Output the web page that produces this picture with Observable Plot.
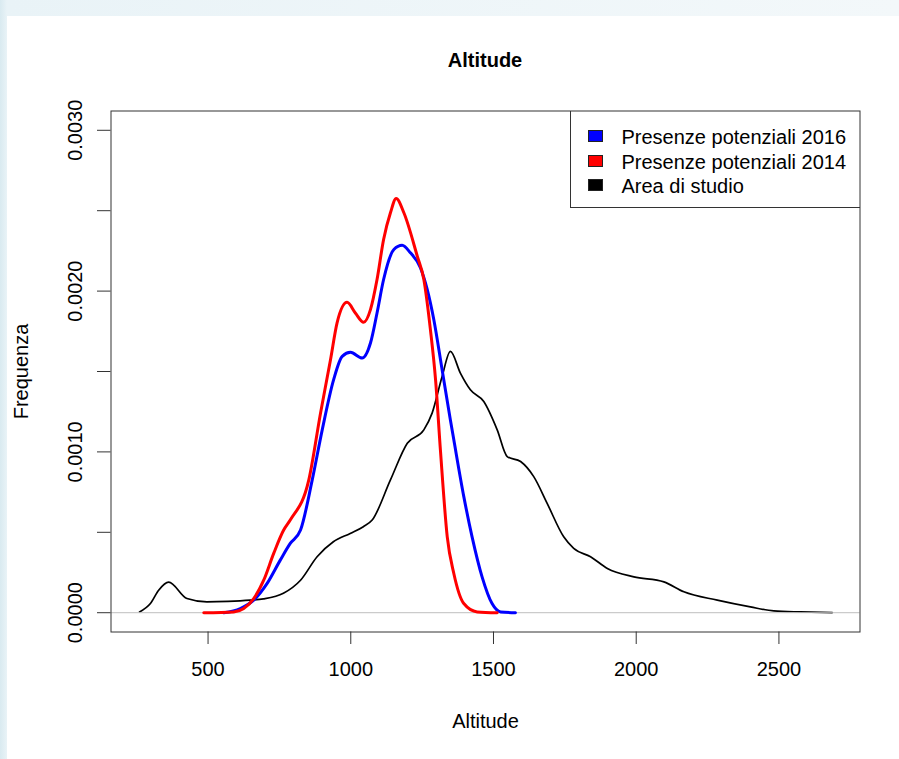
<!DOCTYPE html>
<html>
<head>
<meta charset="utf-8">
<script src="https://cdn.jsdelivr.net/npm/d3@7"></script>
<script src="https://cdn.jsdelivr.net/npm/@observablehq/plot@0.6"></script>
<style>
  html, body { margin: 0; padding: 0; }
  body {
    width: 899px; height: 759px; position: relative; overflow: hidden;
    background: linear-gradient(90deg, #d9eaf0 0px, #e9f3f7 7px, #f3f8fa 100%);
    font-family: "Liberation Sans", Arial, sans-serif; color: #000;
  }
  #panel { position: absolute; left: 7px; top: 16px; right: 0; bottom: 0; background: #fff; }
  #chart { position: absolute; left: 0; top: 0; }
  #title {
    position: absolute; left: 110.5px; width: 749px; top: 50px;
    text-align: center; font-weight: bold; font-size: 20px; line-height: 20px;
  }
  #legend {
    position: absolute; left: 569.5px; top: 110.5px; width: 290px; height: 97.5px;
    box-sizing: border-box; border: 1px solid #333; border-top: none; border-right: none;
  }
  .lg-row { position: absolute; left: 0; height: 24px; width: 100%; }
  .lg-box { position: absolute; left: 17px; top: 0; width: 15px; height: 12px; box-sizing: border-box; border: 1px solid #222; }
  .lg-text { position: absolute; left: 51px; font-size: 20px; line-height: 20px; white-space: nowrap; }
</style>
</head>
<body>
<div id="panel"></div>
<div id="title"></div>
<div id="legend"></div>
<script>
// ---- data ----
const chartTitle = "Altitude";
const xLabel = "Altitude";
const yLabel = "Frequenza";
const xTicks = [500, 1000, 1500, 2000, 2500];
const xTickLabels = ["500", "1000", "1500", "2000", "2500"];
const yTicks = [0, 0.0005, 0.001, 0.0015, 0.002, 0.0025, 0.003];
const yTickLabels = ["0.0000", "", "0.0010", "", "0.0020", "", "0.0030"];
const seriesNames = ["Presenze potenziali 2016", "Presenze potenziali 2014", "Area di studio"];
const seriesColors = ["#0000ff", "#ff0000", "#000000"];

// Area di studio (black)
const areaX = [260, 298, 327, 362, 426, 496, 570, 648, 694, 764, 824, 882, 939, 998, 1044, 1075, 1139, 1198, 1256, 1285, 1320, 1349, 1384, 1419, 1466, 1513, 1548, 1595, 1641, 1688, 1746, 1781, 1840, 1899, 1992, 2097, 2167, 2284, 2400, 2482, 2576, 2687];
const areaY = [0.000005, 0.000057, 0.00014, 0.00019, 0.000088, 0.000067, 0.00007, 0.000078, 0.000086, 0.000121, 0.000202, 0.000348, 0.000441, 0.000493, 0.000535, 0.000576, 0.000826, 0.001054, 0.001137, 0.001241, 0.001469, 0.001625, 0.00149, 0.001386, 0.001313, 0.001137, 0.000971, 0.00094, 0.000846, 0.00068, 0.000472, 0.0004, 0.000348, 0.000275, 0.000223, 0.000192, 0.00013, 0.000078, 0.000036, 0.000011, 0.000005, 0.000001];

// Presenze potenziali 2016 (blue)
const p2016X = [555, 613, 660, 707, 753, 788, 824, 865, 900, 940, 970, 999, 1040, 1069, 1092, 1115, 1151, 1180, 1209, 1244, 1268, 1291, 1320, 1349, 1361, 1396, 1425, 1460, 1495, 1525, 1577];
const p2016Y = [0, 0.000026, 0.000078, 0.000182, 0.000327, 0.000431, 0.000514, 0.000826, 0.001137, 0.001449, 0.001594, 0.001619, 0.001584, 0.001677, 0.001864, 0.002072, 0.002259, 0.002285, 0.002238, 0.002145, 0.002009, 0.001822, 0.001511, 0.001199, 0.001075, 0.000722, 0.000472, 0.000223, 0.000057, 0.000005, 0];

// Presenze potenziali 2014 (red)
const p2014X = [485, 590, 625, 660, 695, 730, 765, 788, 853, 894, 929, 952, 987, 1016, 1045, 1069, 1092, 1115, 1139, 1159, 1186, 1233, 1256, 1279, 1297, 1314, 1338, 1361, 1396, 1443, 1513];
const p2014Y = [0, 0.000005, 0.000026, 0.000088, 0.000202, 0.000369, 0.000514, 0.000576, 0.000826, 0.001241, 0.001573, 0.001802, 0.00193, 0.001864, 0.001806, 0.001885, 0.002072, 0.002321, 0.002487, 0.002576, 0.002487, 0.002217, 0.002072, 0.00176, 0.001449, 0.001012, 0.000472, 0.000244, 0.000057, 0.000005, 0];

const rows = (xs, ys) => xs.map((x, i) => ({x, y: ys[i]}));
const area = rows(areaX, areaY);
const s2016 = rows(p2016X, p2016Y);
const s2014 = rows(p2014X, p2014Y);

const font = "'Liberation Sans', Arial, sans-serif";

const svg = Plot.plot({
  width: 899,
  height: 759,
  marginLeft: 110.5,
  marginRight: 39.5,
  marginTop: 110.5,
  marginBottom: 127.5,
  x: {domain: [160, 2784], label: null},
  y: {domain: [-0.00012, 0.00312], label: null},
  style: {fontFamily: font, fontSize: "20px", color: "#000", background: "transparent", overflow: "visible"},
  marks: [
    Plot.line(area, {x: "x", y: "y", stroke: seriesColors[2], strokeWidth: 1.7, curve: "monotone-x"}),
    Plot.ruleY([0], {stroke: "#bebebe", strokeWidth: 1}),
    Plot.line(s2016, {x: "x", y: "y", stroke: seriesColors[0], strokeWidth: 3, curve: "monotone-x"}),
    Plot.line(s2014, {x: "x", y: "y", stroke: seriesColors[1], strokeWidth: 3, curve: "monotone-x"}),
    Plot.frame({stroke: "#333", strokeWidth: 1}),
    Plot.axisX(xTicks, {
      tickSize: 12.5, tickPadding: 17.5, fontSize: 20, label: null, stroke: "#333", fill: "#000",
      tickFormat: d => xTickLabels[xTicks.indexOf(d)]
    }),
    Plot.axisY(yTicks, {
      tickSize: 13.5, tickPadding: 21.5, tickRotate: -90, textAnchor: "middle", lineAnchor: "middle",
      fontSize: 20, label: null, stroke: "#333", fill: "#000",
      tickFormat: d => yTickLabels[yTicks.indexOf(d)]
    }),
    Plot.text([xLabel], {frameAnchor: "bottom", dy: 89.5, textAnchor: "middle", lineAnchor: "middle", fontSize: 20, fill: "#000"}),
    Plot.text([yLabel], {frameAnchor: "left", dx: -89, rotate: -90, textAnchor: "middle", lineAnchor: "middle", fontSize: 20, fill: "#000"})
  ]
});
svg.id = "chart";
document.body.insertBefore(svg, document.getElementById("title"));

document.getElementById("title").textContent = chartTitle;

const legend = d3.select("#legend");
seriesNames.forEach((name, i) => {
  const row = legend.append("div").attr("class", "lg-row").style("top", `${19.5 + i * 24.5}px`);
  row.append("div").attr("class", "lg-box").style("background", seriesColors[i]);
  row.append("div").attr("class", "lg-text").style("top", "-3px").text(name);
});
</script>
</body>
</html>
